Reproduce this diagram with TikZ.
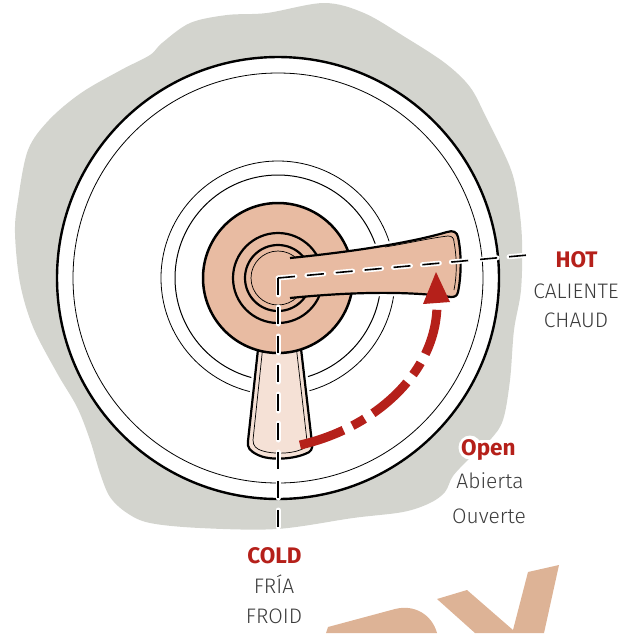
\documentclass[tikz,border=0pt]{standalone}
\usepackage{fontspec}
\IfFontExistsTF{FiraSans-Light.otf}
  {\setmainfont{FiraSans-Light.otf}[BoldFont=FiraSans-Bold.otf]}
  {\IfFontExistsTF{Fira Sans Light}
    {\setmainfont{Fira Sans Light}[BoldFont={Fira Sans Bold}]}
    {\setmainfont{Fira Sans}}}
\definecolor{blobgray}{RGB}{211,212,206}
\definecolor{hubpeach}{RGB}{232,187,162}
\definecolor{leverpale}{RGB}{245,225,214}
\definecolor{hotred}{RGB}{181,32,26}
\definecolor{decopeach}{RGB}{221,179,150}
\definecolor{labgray}{RGB}{60,60,60}
\tikzset{
  outline/.style={draw=black, line width=2.2pt, line join=round},
  halo/.style={draw=white, line width=7pt, line join=round},
  thinline/.style={draw=black, line width=0.7pt},
  lab/.style={inner sep=0pt, anchor=base, text=labgray, font=\fontsize{21}{25}\selectfont},
  labhead/.style={lab, text=hotred, font=\fontsize{22.5}{26}\selectfont\bfseries},
  guidehalo/.style={draw=white, line width=5pt, line cap=round, dash pattern=on 17pt off 12pt},
  guide/.style={draw=black, line width=1.6pt, dash pattern=on 17pt off 12pt},
}
\begin{document}
\begin{tikzpicture}[x=1pt, y=-1pt]
\useasboundingbox (0,0) rectangle (637,633);
\coordinate (c) at (278,278);

% wall cut-out behind the trim plate
\fill[blobgray] plot[smooth cycle, tension=0.55] coordinates {
  (324,3) (364,13) (405,37) (445,63) (470,87) (486,117) (510,167) (518,200)
  (522,240) (521,290) (514,330) (510,380) (503,420) (490,440) (470,458)
  (453,476) (445,492) (430,503) (403,512) (353,518) (277,529) (200,528)
  (150,523) (127,513) (110,497) (100,473) (90,440) (77,407) (57,373)
  (33,327) (20,283) (15,233) (18,200) (28,150) (49,120) (81,93) (121,70)
  (150,55) (162,43) (190,23) (227,15) (267,13)};

% white knock-out hugging the "Open" heading
\fill[white] (470,447.5) ellipse[x radius=11.5pt, y radius=12pt];
\fill[white, rounded corners=4pt] (477,440) rectangle (523,460);
\fill[white, rounded corners=3pt] (477,455) rectangle (490,466);

% trim plate
\draw[fill=white, line width=2.4pt] (c) circle[radius=221pt];
\draw[line width=0.8pt] (c) circle[radius=205pt];
\draw[line width=0.8pt] (c) circle[radius=117pt];
\draw[line width=1.0pt] (c) circle[radius=103pt];

% lower lever (cold position)
\path[halo] (259,340) -- (248,441) .. controls (247,448) and (250,451) .. (258,455)
  .. controls (268,460) and (290,460) .. (305,454)
  .. controls (311,452) and (313,449) .. (312,443) -- (300,340) -- cycle;
\path[outline, fill=leverpale] (259,340) -- (248,441) .. controls (247,448) and (250,451) .. (258,455)
  .. controls (268,460) and (290,460) .. (305,454)
  .. controls (311,452) and (313,449) .. (312,443) -- (300,340) -- cycle;
\path[thinline] (263,345) -- (253,440) .. controls (253,446) and (256,449) .. (263,451)
  .. controls (272,454) and (290,454) .. (300,450)
  .. controls (306,448) and (308,446) .. (307,441) -- (296,345);

% halo of the upper lever
\path[halo] (290,258) .. controls (350,252) and (410,243) .. (447,232)
  .. controls (453,230) and (457,232) .. (458,237)
  .. controls (462,255) and (461,278) .. (458,292)
  .. controls (457,296) and (455,297) .. (451,297)
  .. controls (400,290) and (340,293) .. (290,298);

% hub
\draw[fill=hubpeach, line width=2.5pt] (c) circle[radius=75pt];
\draw[line width=2.2pt] (c) circle[radius=45pt];
\draw[line width=2.2pt] (c) circle[radius=33pt];
\draw[line width=0.7pt] (c) circle[radius=27pt];

% upper lever (hot position)
\fill[hubpeach] (290,258) .. controls (350,252) and (410,243) .. (447,232)
  .. controls (453,230) and (457,232) .. (458,237)
  .. controls (462,255) and (461,278) .. (458,292)
  .. controls (457,296) and (455,297) .. (451,297)
  .. controls (400,290) and (340,293) .. (290,298) -- cycle;
\path[outline] (290,258) .. controls (350,252) and (410,243) .. (447,232)
  .. controls (453,230) and (457,232) .. (458,237)
  .. controls (462,255) and (461,278) .. (458,292)
  .. controls (457,296) and (455,297) .. (451,297)
  .. controls (400,290) and (340,293) .. (290,298);
\path[thinline] (385,247) .. controls (410,243) and (430,238) .. (448,236)
  .. controls (452,236) and (454,238) .. (454,242)
  .. controls (457,258) and (457,275) .. (454,290);

% guide lines to the labels
\coordinate (coldend) at (278,530);
\coordinate (hotend) at (528,255);
\path[guidehalo] (c) -- (coldend);
\path[guidehalo] (c) -- (hotend);
\path[guide] (c) -- (coldend);
\path[guide] (c) -- (hotend);

% turning direction
\coordinate (arrS) at (300,445);
\coordinate (arrE) at (437,304);
\coordinate (tip) at (436,272);
\coordinate (baseL) at (423,304);
\coordinate (baseR) at (450,302);
\draw[hotred, line width=9pt, dash pattern=on 46pt off 10pt on 14pt off 10pt]
  (arrS) .. controls (375,428) and (437,372) .. (arrE);
\fill[hotred] (tip) -- (baseL) -- (baseR) -- cycle;

% labels
\node[labhead] (hot) at (576.5,267) {HOT};
\node[lab] (caliente) at (576,298) {CALIENTE};
\node[lab] (chaud) at (576,327) {CHAUD};

\node[labhead] (cold) at (274.5,563) {COLD};
\node[lab] (fria) at (274,593) {FRÍA};
\node[lab] (froid) at (274,623) {FROID};

\node[labhead, anchor=base west] (open) at (461,455) {Open};
\node[lab] (abierta) at (490,488) {Abierta};
\node[lab] (ouverte) at (489,523) {Ouverte};

% corner graphic
\fill[decopeach] (326,633) -- (328,627) -- (395,609)
  .. controls (415,604) and (432,615) .. (437,633) -- cycle;
\fill[decopeach] (437,599) -- (467,590) -- (513,630) -- (528,572) -- (559,565)
  -- (544,633) -- (475,633) -- cycle;
\end{tikzpicture}
\end{document}
